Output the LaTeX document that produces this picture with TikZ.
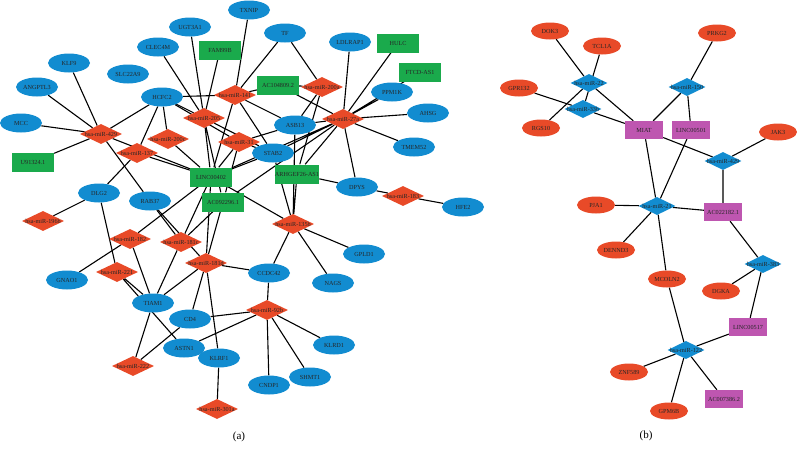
\documentclass[tikz,border=0pt]{standalone}
\usepackage{fontspec}
\setmainfont{Liberation Serif}
\usetikzlibrary{shapes.geometric,backgrounds}
\definecolor{genblue}{RGB}{18,140,208}
\definecolor{mirred}{RGB}{232,74,40}
\definecolor{lncgreen}{RGB}{26,170,76}
\definecolor{lncpurple}{RGB}{190,86,176}
\tikzset{
  nodefont/.style={font=\fontsize{6.2}{7}\selectfont, text=black!85},
  gene/.style={ellipse, fill=genblue, minimum width=42pt, minimum height=19pt, inner sep=0pt, nodefont},
  mir/.style={diamond, fill=mirred, minimum width=42pt, minimum height=20pt, inner sep=0pt, nodefont},
  lnc/.style={rectangle, fill=lncgreen, minimum width=42pt, minimum height=19pt, inner sep=0pt, nodefont},
  geneb/.style={gene, fill=mirred, minimum width=38pt, minimum height=17pt},
  mirb/.style={mir, fill=genblue, minimum width=37pt, minimum height=18pt},
  lncb/.style={lnc, fill=lncpurple, minimum width=38pt, minimum height=18pt},
  link/.style={line width=1.1pt},
  panel/.style={font=\fontsize{11}{13}\selectfont}
}
\newcommand{\mirlab}[1]{\makebox[0pt]{hsa-miR-#1}}

\begin{document}
\begin{tikzpicture}[x=1pt,y=-1pt]
\useasboundingbox (0,0) rectangle (797,455);

% (a) mRNAs
\node[gene] (klf9) at (69,63) {KLF9};
\node[gene] (angptl3) at (37,87) {ANGPTL3};
\node[gene] (mcc) at (21,123) {MCC};
\node[gene] (slc22a9) at (128,74) {SLC22A9};
\node[gene] (clec4m) at (158,47) {CLEC4M};
\node[gene] (hcfc2) at (162,97) {HCFC2};
\node[gene] (ugt3a1) at (190,27) {UGT3A1};
\node[gene] (txnip) at (249,10) {TXNIP};
\node[gene] (tf) at (285,33) {TF};
\node[gene] (ldlrap1) at (350,42) {LDLRAP1};
\node[gene] (asb13) at (295,125) {ASB13};
\node[gene] (stab2) at (273,153) {STAB2};
\node[gene] (ppm1k) at (392,92) {PPM1K};
\node[gene] (ahsg) at (428,113) {AHSG};
\node[gene] (tmem52) at (414,147) {TMEM52};
\node[gene] (dpys) at (357,187) {DPYS};
\node[gene] (hfe2) at (463,207) {HFE2};
\node[gene] (gpld1) at (364,254) {GPLD1};
\node[gene] (nags) at (333,283) {NAGS};
\node[gene] (ccdc42) at (269,273) {CCDC42};
\node[gene] (dlg2) at (99,193) {DLG2};
\node[gene] (rab37) at (150,201) {RAB37};
\node[gene] (gnao1) at (67,280) {GNAO1};
\node[gene] (tiam1) at (153,303) {TIAM1};
\node[gene] (cd4) at (190,319) {CD4};
\node[gene] (astn1) at (184,348) {ASTN1};
\node[gene] (klrf1) at (219,358) {KLRF1};
\node[gene] (cndp1) at (269,385) {CNDP1};
\node[gene] (shmt1) at (310,377) {SHMT1};
\node[gene] (klrd1) at (334,345) {KLRD1};

% (a) lncRNAs
\node[lnc] (fam99b) at (220,50) {FAM99B};
\node[lnc] (ac104809) at (278,85) {AC104809.2};
\node[lnc] (hulc) at (398,43) {HULC};
\node[lnc] (ftcd) at (420,72) {FTCD-AS1};
\node[lnc] (u91324) at (33,162) {U91324.1};
\node[lnc] (linc402) at (211,177) {LINC00402};
\node[lnc] (ac092296) at (223,202) {AC092296.1};
\node[lnc] (arhgef) at (297,174) {ARHGEF26-AS1};

% (a) miRNAs
\node[mir] (m429) at (101,134) {\mirlab{429}};
\node[mir] (m141) at (235,95) {\mirlab{141}};
\node[mir] (m200a) at (322,87) {\mirlab{200a}};
\node[mir] (m205) at (204,118) {\mirlab{205}};
\node[mir] (m200c) at (168,139) {\mirlab{200c}};
\node[mir] (m27a) at (343,119) {\mirlab{27a}};
\node[mir] (m31) at (239,142) {\mirlab{31}};
\node[mir] (m137) at (137,153) {\mirlab{137}};
\node[mir] (m196b) at (43,221) {\mirlab{196b}};
\node[mir] (m182) at (130,239) {\mirlab{182}};
\node[mir] (m181c) at (181,242) {\mirlab{181c}};
\node[mir] (m181d) at (206,263) {\mirlab{181d}};
\node[mir] (m221) at (117,272) {\mirlab{221}};
\node[mir] (m222) at (133,366) {\mirlab{222}};
\node[mir] (m301a) at (217,409) {\mirlab{301a}};
\node[mir] (m92b) at (267,310) {\mirlab{92b}};
\node[mir] (m135b) at (293,224) {\mirlab{135b}};
\node[mir] (m183) at (403,196) {\mirlab{183}};

% (b) mRNAs
\node[geneb] (dok3) at (550,31) {DOK3};
\node[geneb] (tcl1a) at (602,46) {TCL1A};
\node[geneb] (prkg2) at (717,33) {PRKG2};
\node[geneb] (gpr132) at (519,88) {GPR132};
\node[geneb] (rgs10) at (541,128) {RGS10};
\node[geneb] (jak3) at (778,132) {JAK3};
\node[geneb] (pja1) at (596,205) {PJA1};
\node[geneb] (dennd3) at (616,250) {DENND3};
\node[geneb] (mcoln2) at (667,279) {MCOLN2};
\node[geneb] (dgka) at (721,291) {DGKA};
\node[geneb] (znf589) at (629,372) {ZNF589};
\node[geneb] (gpm6b) at (669,411) {GPM6B};

% (b) lncRNAs
\node[lncb] (miat) at (644,130) {MIAT};
\node[lncb] (linc501) at (691,130) {LINC00501};
\node[lncb] (ac022182) at (723,212) {AC022182.1};
\node[lncb] (linc517) at (748,327) {LINC00517};
\node[lncb] (ac007386) at (724,399) {AC007386.2};

% (b) miRNAs
\node[mirb] (b22) at (589,83) {\mirlab{22}};
\node[mirb] (b33b) at (583,109) {\mirlab{33b}};
\node[mirb] (b150) at (687,87) {\mirlab{150}};
\node[mirb] (b429) at (723,161) {\mirlab{429}};
\node[mirb] (b21) at (657,206) {\mirlab{21}};
\node[mirb] (b383) at (763,264) {\mirlab{383}};
\node[mirb] (b122) at (686,350) {\mirlab{122}};

% Panel labels
\node[panel] (la) at (239,437) {(a)};
\node[panel] (lb) at (646,436) {(b)};

\begin{pgfonlayer}{background}
% (a) links
\draw[link] (m429) -- (klf9) (m429) -- (angptl3) (m429) -- (mcc) (m429) -- (hcfc2) (m429) -- (u91324) (m429) -- (rab37) (m429) -- (linc402);
\draw[link] (m196b) -- (dlg2);
\draw[link] (m137) -- (hcfc2) (m137) -- (linc402) (m137) -- (dlg2);
\draw[link] (m200c) -- (hcfc2) (m200c) -- (linc402);
\draw[link] (m205) -- (ugt3a1) (m205) -- (fam99b) (m205) -- (clec4m) (m205) -- (hcfc2) (m205) -- (stab2) (m205) -- (linc402) (m205) -- (ac092296);
\draw[link] (m141) -- (txnip) (m141) -- (tf) (m141) -- (hcfc2) (m141) -- (ac104809) (m141) -- (asb13) (m141) -- (stab2) (m141) -- (linc402);
\draw[link] (m200a) -- (tf) (m200a) -- (ac104809) (m200a) -- (asb13) (m200a) -- (arhgef);
\draw[link] (m27a) -- (ldlrap1) (m27a) -- (hulc) (m27a) -- (ftcd) (m27a) -- (ppm1k) (m27a) -- (ahsg) (m27a) -- (tmem52) (m27a) -- (dpys) (m27a) -- (ac104809) (m27a) -- (asb13) (m27a) -- (stab2) (m27a) -- (arhgef) (m27a) -- (ac092296) (m27a) -- (linc402);
\draw[link] (m31) -- (hcfc2) (m31) -- (stab2) (m31) -- (asb13) (m31) -- (linc402) (m31) -- (ac092296);
\draw[link] (m182) -- (gnao1) (m182) -- (tiam1) (m182) -- (linc402);
\draw[link] (m221) -- (dlg2) (m221) -- (tiam1) (m221) -- (astn1);
\draw[link] (m181c) -- (rab37) (m181c) -- (tiam1) (m181c) -- (linc402) (m181c) -- (ac092296);
\draw[link] (m181d) -- (rab37) (m181d) -- (linc402) (m181d) -- (ac092296) (m181d) -- (ccdc42) (m181d) -- (tiam1) (m181d) -- (cd4) (m181d) -- (klrf1);
\draw[link] (m222) -- (tiam1) (m222) -- (cd4);
\draw[link] (m301a) -- (klrf1);
\draw[link] (m92b) -- (ccdc42) (m92b) -- (cd4) (m92b) -- (astn1) (m92b) -- (klrd1) (m92b) -- (shmt1) (m92b) -- (cndp1);
\draw[link] (m135b) -- (asb13) (m135b) -- (stab2) (m135b) -- (arhgef) (m135b) -- (linc402) (m135b) -- (ccdc42) (m135b) -- (nags) (m135b) -- (gpld1);
\draw[link] (m183) -- (dpys) (m183) -- (hfe2);
\draw[link] (arhgef) -- (dpys) (linc402) -- (stab2);

% (b) links
\draw[link] (b22) -- (dok3) (b22) -- (rgs10) (b22) -- (miat);
\draw[link] (b33b) -- (tcl1a) (b33b) -- (gpr132) (b33b) -- (miat);
\draw[link] (b150) -- (prkg2) (b150) -- (miat) (b150) -- (linc501);
\draw[link] (b429) -- (miat) (b429) -- (jak3) (b429) -- (ac022182);
\draw[link] (b21) -- (miat) (b21) -- (linc501) (b21) -- (pja1) (b21) -- (dennd3) (b21) -- (mcoln2) (b21) -- (ac022182);
\draw[link] (b383) -- (ac022182) (b383) -- (dgka) (b383) -- (linc517);
\draw[link] (b122) -- (mcoln2) (b122) -- (linc517) (b122) -- (znf589) (b122) -- (gpm6b) (b122) -- (ac007386);
\end{pgfonlayer}

\end{tikzpicture}
\end{document}
